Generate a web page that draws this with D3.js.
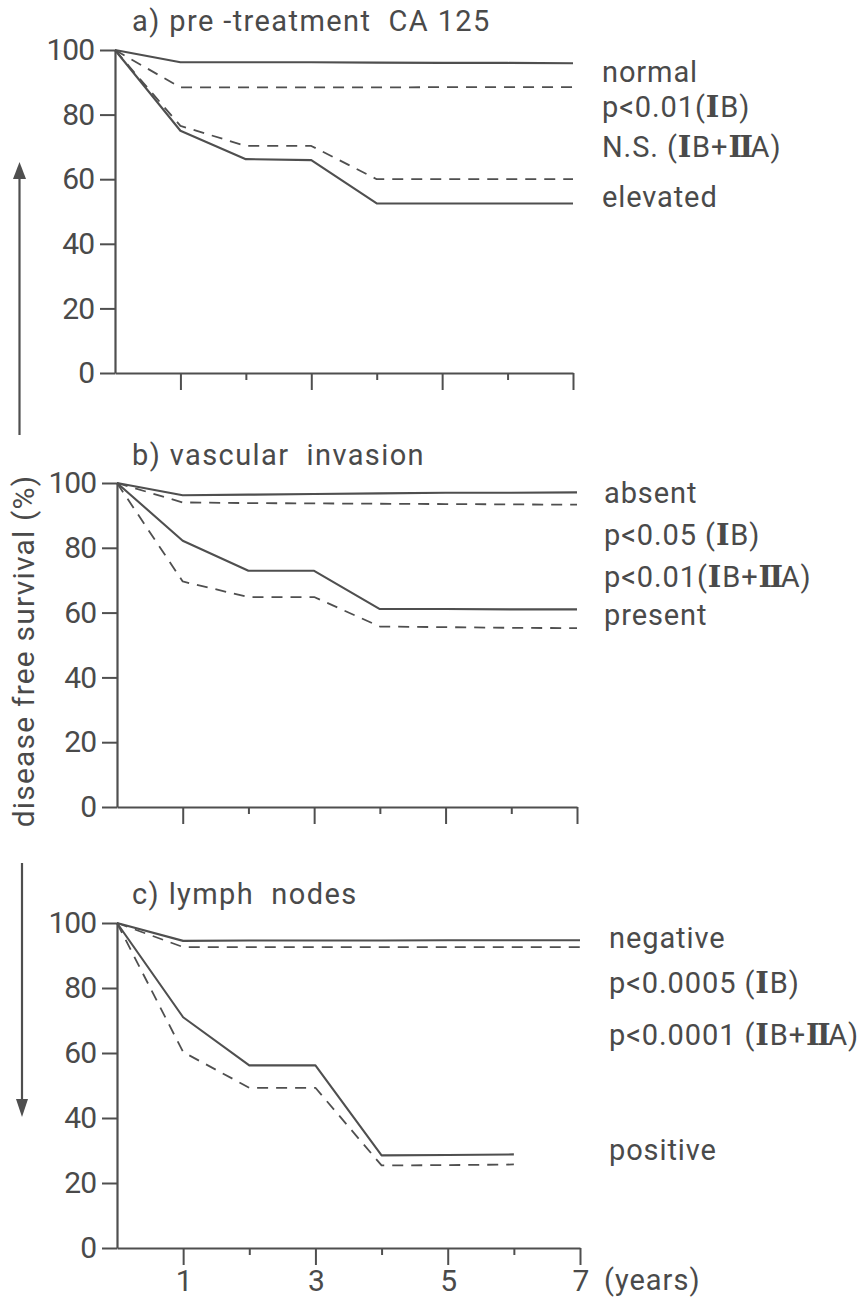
<!DOCTYPE html>
<html>
<head>
<meta charset="utf-8">
<script src="https://cdn.jsdelivr.net/npm/d3@7"></script>
<style>
  body { margin: 0; background: #fff; }
  svg text { font-family: Roboto, "DejaVu Sans", sans-serif; fill: #4a4a4a; font-weight: 400; }
</style>
</head>
<body>
<div id="chart"></div>
<script>
const width = 868;
const height = 1299;
const ink = '#4f4f4f';

// years on the x axis
const years = [0, 1, 2, 3, 4, 5, 6, 7];
const yearsShort = [0, 1, 2, 3, 4, 5, 6];
const yTicks = [0, 20, 40, 60, 80, 100];
const xTicks = [1, 2, 3, 4, 5, 6, 7];

// a) pre-treatment CA 125 (solid = IB, dashed = IB+IIA)
const caNormalIB = [100, 96.2, 96.2, 96.2, 96.1, 96, 96, 95.9];
const caNormalIBIIA = [100, 88.4, 88.4, 88.4, 88.4, 88.5, 88.5, 88.5];
const caElevatedIB = [100, 75, 66.2, 65.9, 52.5, 52.5, 52.5, 52.5];
const caElevatedIBIIA = [100, 76.5, 70.3, 70.3, 60, 60, 60, 60];

// b) vascular invasion
const vascAbsentIB = [100, 96.2, 96.4, 96.6, 96.8, 97, 97, 97.1];
const vascAbsentIBIIA = [100, 94, 93.8, 93.7, 93.6, 93.5, 93.4, 93.3];
const vascPresentIB = [100, 82.2, 72.9, 72.9, 61.1, 61.1, 61, 61];
const vascPresentIBIIA = [100, 69.6, 64.8, 64.8, 55.7, 55.5, 55.3, 55.2];

// c) lymph nodes
const nodesNegativeIB = [100, 94.5, 94.6, 94.6, 94.6, 94.7, 94.7, 94.7];
const nodesNegativeIBIIA = [100, 92.6, 92.6, 92.6, 92.6, 92.6, 92.6, 92.6];
const nodesPositiveIB = [100, 71, 56.2, 56.2, 28.5, 28.6, 28.8];
const nodesPositiveIBIIA = [100, 60.3, 49.3, 49.3, 25.4, 25.5, 25.7];

const panelTitles = ['a) pre -treatment  CA 125', 'b) vascular  invasion', 'c) lymph  nodes'];
const panelLabels = [
    ['normal', 'p<0.01(IB)', 'N.S. (IB+IIA)', 'elevated'],
    ['absent', 'p<0.05 (IB)', 'p<0.01(IB+IIA)', 'present'],
    ['negative', 'p<0.0005 (IB)', 'p<0.0001 (IB+IIA)', 'positive']
];

const panels = [
    {
        x0: 115, x7: 573, yTop: 50, yBottom: 373, titleY: 31, labelX: 602,
        labelY: [82, 117, 157, 207],
        series: [
            { x: years, y: caNormalIB, dashed: false },
            { x: years, y: caNormalIBIIA, dashed: true },
            { x: years, y: caElevatedIBIIA, dashed: true },
            { x: years, y: caElevatedIB, dashed: false }
        ]
    },
    {
        x0: 117, x7: 577, yTop: 483, yBottom: 807, titleY: 465, labelX: 604,
        labelY: [503, 545, 587, 625],
        series: [
            { x: years, y: vascAbsentIB, dashed: false },
            { x: years, y: vascAbsentIBIIA, dashed: true },
            { x: years, y: vascPresentIB, dashed: false },
            { x: years, y: vascPresentIBIIA, dashed: true }
        ]
    },
    {
        x0: 117, x7: 580, yTop: 923, yBottom: 1248, titleY: 904, labelX: 609,
        labelY: [948, 993, 1045, 1160],
        xLabels: true,
        series: [
            { x: years, y: nodesNegativeIB, dashed: false },
            { x: years, y: nodesNegativeIBIIA, dashed: true },
            { x: yearsShort, y: nodesPositiveIB, dashed: false },
            { x: yearsShort, y: nodesPositiveIBIIA, dashed: true }
        ]
    }
];

const svg = d3.select('#chart').append('svg')
    .attr('width', width)
    .attr('height', height);

/**
 * Write a label, setting the roman stage numbers in a serif face
 */
const writeLabel = (sel, str) => {
    str.split(/(II|I)/).filter(s => s.length).forEach(part => {
        const t = sel.append('tspan').text(part);
        if (part === 'I' || part === 'II') {
            t.style('font-family', '"DejaVu Serif", serif').style('font-weight', 'bold')
                .attr('letter-spacing', part === 'II' ? -2.5 : 0.8);
        }
    });
};

const drawPanel = (p, i) => {
    const x = d3.scaleLinear().domain([0, 7]).range([p.x0, p.x7]);
    const y = d3.scaleLinear().domain([0, 100]).range([p.yBottom, p.yTop]);
    const g = svg.append('g');

    // y axis
    const yAxis = g.append('g')
        .attr('transform', `translate(${p.x0},0)`)
        .call(d3.axisLeft(y).tickValues(yTicks).tickSize(15).tickSizeOuter(0).tickPadding(6));

    // x axis, long ticks at odd years
    const xAxis = g.append('g')
        .attr('transform', `translate(0,${p.yBottom})`)
        .call(d3.axisBottom(x).tickValues(xTicks).tickSizeOuter(0).tickPadding(8)
            .tickFormat(d => (p.xLabels && d % 2 === 1) ? d : ''));
    xAxis.selectAll('.tick line').attr('y2', d => d % 2 === 1 ? 17 : 7);
    xAxis.selectAll('.tick text').attr('dy', '0.95em');

    [yAxis, xAxis].forEach(ax => {
        ax.select('.domain').attr('stroke', ink).attr('stroke-width', 2.2);
        ax.selectAll('.tick line').attr('stroke', ink).attr('stroke-width', 2);
        ax.selectAll('.tick text').attr('font-size', 30).attr('letter-spacing', -1);
    });

    if (p.xLabels) {
        g.append('text')
            .attr('x', x(7) + 24)
            .attr('y', p.yBottom + 42)
            .attr('font-size', 29)
            .attr('letter-spacing', 1)
            .text('(years)');
    }

    // survival curves
    const line = d3.line().x(d => x(d[0])).y(d => y(d[1]));
    p.series.forEach(s => {
        g.append('path')
            .datum(d3.zip(s.x, s.y))
            .attr('d', line)
            .attr('fill', 'none')
            .attr('stroke', ink)
            .attr('stroke-width', s.dashed ? 1.8 : 2.1)
            .attr('stroke-dasharray', s.dashed ? '11,8' : null)
            .attr('stroke-linejoin', 'round');
    });

    // panel title
    g.append('text')
        .attr('x', 132)
        .attr('y', p.titleY)
        .attr('font-size', 29)
        .attr('letter-spacing', 1.4)
        .style('white-space', 'pre')
        .text(panelTitles[i]);

    // group labels and p-values
    panelLabels[i].forEach((str, j) => {
        const t = g.append('text')
            .attr('x', p.labelX)
            .attr('y', p.labelY[j])
            .attr('font-size', 29)
            .attr('letter-spacing', 0.9);
        writeLabel(t, str);
    });
};

panels.forEach(drawPanel);

// vertical axis title with the two arrows
svg.append('text')
    .attr('transform', 'translate(34,651) rotate(-90)')
    .attr('text-anchor', 'middle')
    .attr('font-size', 30)
    .attr('letter-spacing', 1.2)
    .text('disease free survival (%)');

svg.append('line')
    .attr('x1', 19.5).attr('x2', 19.5).attr('y1', 435).attr('y2', 175)
    .attr('stroke', ink).attr('stroke-width', 2.2);
svg.append('path')
    .attr('d', 'M19.5,162 L13,179 L26,179 Z')
    .attr('fill', ink);

svg.append('line')
    .attr('x1', 22).attr('x2', 22).attr('y1', 863).attr('y2', 1102)
    .attr('stroke', ink).attr('stroke-width', 2.2);
svg.append('path')
    .attr('d', 'M22,1117 L16,1099 L28,1099 Z')
    .attr('fill', ink);
</script>
</body>
</html>
